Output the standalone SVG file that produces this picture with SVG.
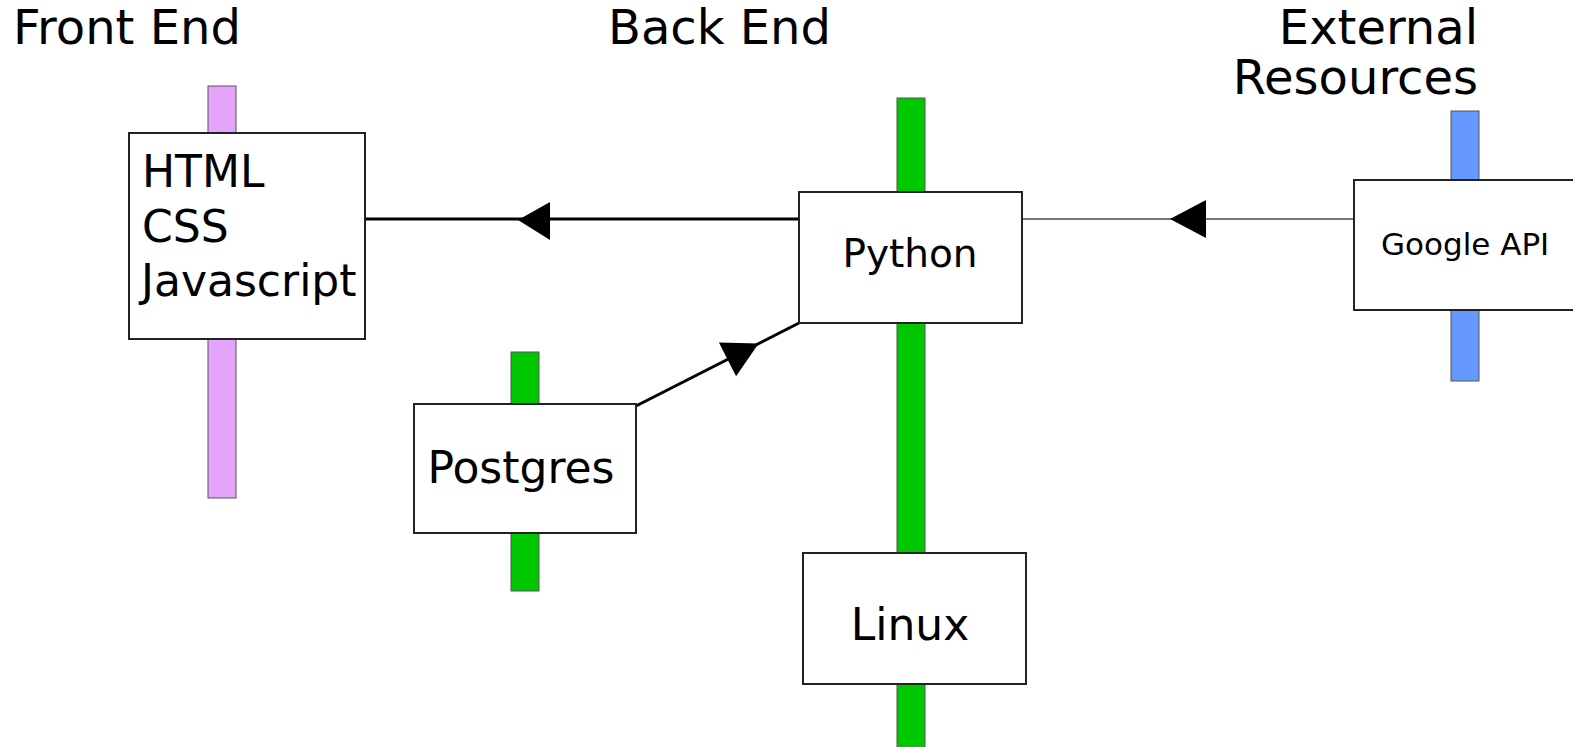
<svg xmlns="http://www.w3.org/2000/svg" width="1573" height="747" viewBox="0 0 1573 747">
  <style>
    text { font-family: "DejaVu Sans", "Liberation Sans", sans-serif; fill: #000; }
    .title { font-size: 48px; }
    .box { fill: #fff; stroke: #222; stroke-width: 2; }
    .bar { stroke: #555; stroke-width: 1; }
    .pink { fill: #e4a4fb; }
    .green { fill: #00c800; }
    .blue { fill: #6699ff; }
    .lbl { font-size: 44px; }
    .link { fill: none; stroke: #000; stroke-width: 3; }
    .link-gray { fill: none; stroke: #777; stroke-width: 2; }
    .head { fill: #000; stroke: none; }
  </style>

  <!-- column headings -->
  <g id="headings">
    <text class="title" x="13" y="44">Front End</text>
    <text class="title" x="608" y="44">Back End</text>
    <text class="title" x="1478" y="44" text-anchor="end">External</text>
    <text class="title" x="1478" y="94" text-anchor="end">Resources</text>
  </g>

  <!-- connectors -->
  <g id="connectors">
    <line class="link" x1="799" y1="219" x2="365" y2="219"/>
    <polygon class="head" points="518,220 550,202 550,240"/>
    <line class="link-gray" x1="1354" y1="219" x2="1021" y2="219"/>
    <polygon class="head" points="1170,219 1206,200 1206,238"/>
    <line class="link" x1="636" y1="406" x2="799" y2="323"/>
    <polygon class="head" points="758.6,343.6 736.1,376.3 718.9,342.5"/>
  </g>

  <!-- front end -->
  <g id="frontend">
    <rect class="bar pink" x="208" y="86" width="28" height="412"/>
    <rect class="box" x="129" y="133" width="236" height="206"/>
    <text class="lbl" x="142" y="187">HTML</text>
    <text class="lbl" x="142" y="242">CSS</text>
    <text class="lbl" x="141" y="296">Javascript</text>
  </g>

  <!-- python service, its bar runs down through the linux host -->
  <g id="python">
    <rect class="bar green" x="897" y="98" width="28" height="660"/>
    <rect class="box" x="799" y="192" width="223" height="131"/>
    <text x="910" y="267" font-size="39" text-anchor="middle">Python</text>
  </g>

  <g id="linux">
    <rect class="box" x="803" y="553" width="223" height="131"/>
    <text class="lbl" x="910" y="640" text-anchor="middle">Linux</text>
  </g>

  <g id="postgres">
    <rect class="bar green" x="511" y="352" width="28" height="239"/>
    <rect class="box" x="414" y="404" width="222" height="129"/>
    <text class="lbl" x="521" y="483" text-anchor="middle">Postgres</text>
  </g>

  <g id="google-api">
    <rect class="bar blue" x="1451" y="111" width="28" height="270"/>
    <rect class="box" x="1354" y="180" width="240" height="130"/>
    <text x="1381" y="255" font-size="31">Google API</text>
  </g>
</svg>
